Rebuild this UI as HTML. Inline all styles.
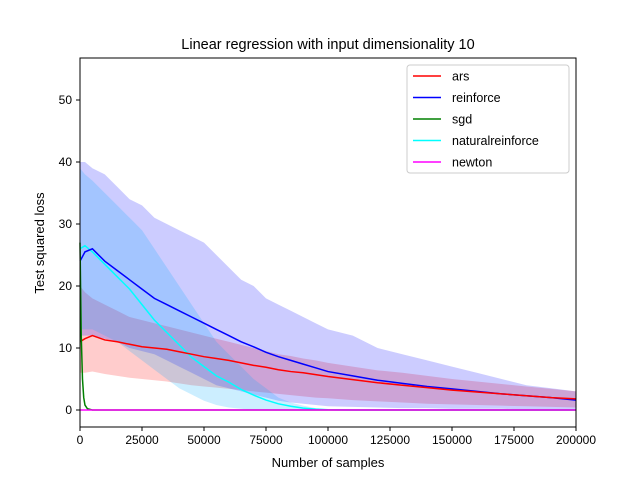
<!DOCTYPE html>
<html><head><meta charset="utf-8"><style>
body{margin:0;background:#fff;}
svg text{font-family:"Liberation Sans","DejaVu Sans",sans-serif;}
</style></head><body>
<svg id="chart" width="640" height="480" xmlns="http://www.w3.org/2000/svg">
<rect width="640" height="480" fill="#fff"/>
<text x="328" y="49" font-size="14.5" text-anchor="middle">Linear regression with input dimensionality 10</text>
<g id="bands"></g><g id="lines"></g>
<rect x="80" y="58" width="496" height="369" fill="none" stroke="#000" stroke-width="1"/>
<g id="axes"></g>
<text x="328" y="467" font-size="13" text-anchor="middle">Number of samples</text>
<text transform="translate(44,243) rotate(-90)" font-size="13" text-anchor="middle">Test squared loss</text>
<g>
<rect x="407" y="65" width="162" height="108" fill="#fff" fill-opacity="0.8" stroke="#ccc" rx="3"/>
<g id="legend"></g>
</g>
</svg>
<script>
const xs = [0,2000,5000,10000,15000,20000,25000,30000,35000,40000,45000,50000,55000,60000,65000,70000,75000,80000,85000,90000,95000,100000,110000,120000,130000,140000,150000,160000,170000,180000,190000,200000];
const arsVals = [11,11.5,12,11.3,11,10.6,10.2,10,9.8,9.4,9,8.6,8.3,8,7.6,7.2,6.9,6.5,6.2,6,5.7,5.4,4.9,4.4,4,3.6,3.2,2.9,2.6,2.3,2,1.8];
const arsUpper = [20,19,18,17,16,15,14.5,14,13.5,13,12.5,12,11.5,11,10.5,10,9.5,9,8.7,8.3,8,7.6,7,6.4,6,5.5,5,4.6,4.2,3.8,3.4,3];
const arsLower = [6,6,6.2,5.8,5.5,5.2,5,4.8,4.6,4.3,4,3.8,3.6,3.4,3.2,3,2.8,2.6,2.4,2.2,2,1.9,1.6,1.4,1.2,1,0.9,0.8,0.7,0.6,0.5,0.4];
const reinfVals = [24,25.5,26,24,22.5,21,19.5,18,17,16,15,14,13,12,11,10.2,9.3,8.6,8,7.4,6.8,6.2,5.5,4.8,4.3,3.8,3.4,3,2.6,2.3,2,1.6];
const reinfUpper = [40,40,39,38,36,34,33,31,30,29,28,27,25,23,21,20,18,17,16,15,14,13,12,10,9,8,7,6,5,4,3.5,3];
const reinfLower = [12,12,12,11.5,11,10,9.5,9,8,7,6,5,4,3.5,3,2.5,2,1.5,1.2,1,0.8,0.6,0.5,0.4,0.3,0.3,0.2,0.2,0.2,0.1,0.1,0.1];
const natVals = [26,26.5,25.5,23.5,21.5,19.5,17,14.5,12.5,10.5,8.5,7,5.5,4.5,3.3,2.4,1.6,1,0.6,0.3,0.15,0.05,0,0,0,0,0,0,0,0,0,0];
const natUpper = [39,38,37,35,33,31,29,26,23,20,17,14,11,9,7,5,3.5,2,1.2,0.7,0.3,0.1,0,0,0,0,0,0,0,0,0,0];
const natLower = [13,13,13,12,11,9.5,8,6.5,5,3.5,2.5,1.5,0.8,0.4,0.2,0,0,0,0,0,0,0,0,0,0,0,0,0,0,0,0,0];
const sgdXs = [0,500,1000,1500,2000,3000,5000,200000];
const sgdVals = [27,12,5,2,0.8,0.2,0,0];
const newtonXs = [0,200000];
const newtonVals = [0,0];
const xTicks = [0,25000,50000,75000,100000,125000,150000,175000,200000];
const yTicks = [0,10,20,30,40,50];
const legendLabels = ["ars","reinforce","sgd","naturalreinforce","newton"];
const legendColors = ["#ff0000","#0000ff","#008000","#00ffff","#ff00ff"];

const NS="http://www.w3.org/2000/svg";
const X=v=>80+v/200000*496;
const Y=v=>410-v*6.2;
function mk(tag,attrs,parent){const e=document.createElementNS(NS,tag);for(const k in attrs)e.setAttribute(k,attrs[k]);parent.appendChild(e);return e;}
const bands=document.getElementById('bands'),lines=document.getElementById('lines'),axes=document.getElementById('axes'),leg=document.getElementById('legend');
function band(lo,hi,color,name){
  let d='M'+xs.map((x,i)=>X(x)+','+Y(hi[i])).join('L');
  for(let i=xs.length-1;i>=0;i--)d+='L'+X(xs[i])+','+Y(lo[i]);
  const p=mk('path',{d:d+'Z',fill:color,'fill-opacity':0.2,stroke:'none'},bands);
  
  
}
band(arsLower,arsUpper,'#ff0000','ars-band');
band(reinfLower,reinfUpper,'#0000ff','reinforce-band');
band(natLower,natUpper,'#00aaff','naturalreinforce-band');
function line(xv,yv,color,name){
  const p=mk('polyline',{points:xv.map((x,i)=>X(x)+','+Y(yv[i])).join(' '),fill:'none',stroke:color,'stroke-width':1.5},lines);
  
  
}
line(xs,natVals,'#00ffff','naturalreinforce-line');
line(xs,reinfVals,'#0000ff','reinforce-line');
line(xs,arsVals,'#ff0000','ars-line');
line(sgdXs,sgdVals,'#008000','sgd-line');
line(newtonXs,newtonVals,'#ff00ff','newton-line');
xTicks.forEach(t=>{
  mk('line',{x1:X(t),x2:X(t),y1:427,y2:431,stroke:'#000'},axes);
  const tx=mk('text',{x:X(t),y:444,'font-size':12,'text-anchor':'middle'},axes);tx.textContent=t;
  
  
});
yTicks.forEach(t=>{
  mk('line',{x1:76,x2:80,y1:Y(t),y2:Y(t),stroke:'#000'},axes);
  const tx=mk('text',{x:72,y:Y(t)+4,'font-size':12,'text-anchor':'end'},axes);tx.textContent=t;
  
  
});
legendLabels.forEach((l,i)=>{
  const y=76+i*21.5;
  mk('line',{x1:413,x2:441,y1:y,y2:y,stroke:legendColors[i],'stroke-width':1.5},leg);
  const tx=mk('text',{x:452,y:y+4.5,'font-size':12.5},leg);tx.textContent=l;
  
  
});
</script>
</body></html>
